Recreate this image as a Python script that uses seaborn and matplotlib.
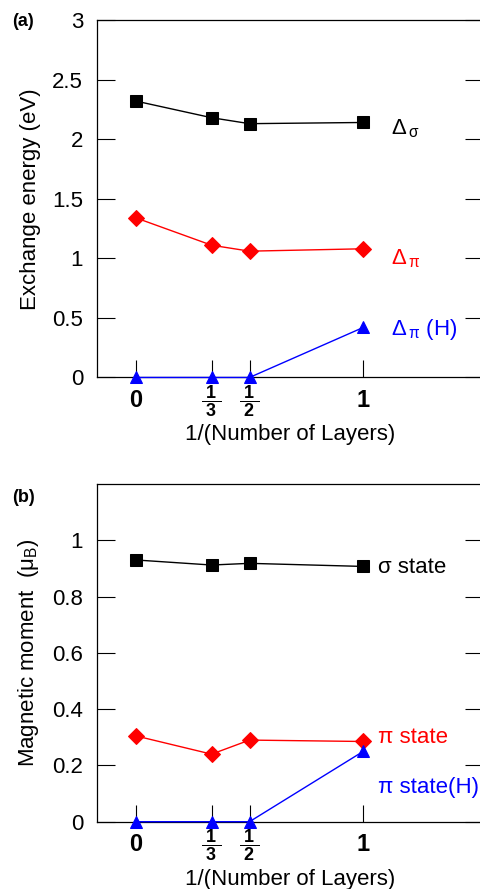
import matplotlib
matplotlib.use("Agg")
import matplotlib.pyplot as plt
import seaborn as sns

# 1/(number of layers) positions and their labels
inv_layers = [0, 1 / 3, 1 / 2, 1]
tick_labels = [r"$\mathbf{0}$", r"$\dfrac{\;\mathbf{1}\;}{\;\mathbf{3}\;}$",
               r"$\dfrac{\;\mathbf{1}\;}{\;\mathbf{2}\;}$", r"$\mathbf{1}$"]

# (a) exchange energy (eV)
exch_sigma = [2.32, 2.18, 2.13, 2.14]
exch_pi = [1.34, 1.11, 1.06, 1.08]
exch_pi_h = [0.0, 0.0, 0.0, 0.42]

# (b) magnetic moment (mu_B)
mom_sigma = [0.93, 0.912, 0.918, 0.907]
mom_pi = [0.305, 0.24, 0.29, 0.285]
mom_pi_h = [0.0, 0.0, 0.0, 0.25]

sns.set_style("ticks")
plt.rcParams["font.family"] = ["Liberation Sans", "DejaVu Sans"]
plt.rcParams["mathtext.fontset"] = "custom"
plt.rcParams["mathtext.rm"] = "Liberation Sans"
plt.rcParams["mathtext.bf"] = "Liberation Sans:bold"
plt.rcParams["mathtext.it"] = "Liberation Sans"
plt.rcParams["axes.linewidth"] = 0.9
for k in ["text.color", "axes.labelcolor", "xtick.color", "ytick.color", "axes.edgecolor"]:
    plt.rcParams[k] = "black"

fig = plt.figure(figsize=(4.81, 8.89), dpi=100)
ax_a = fig.add_axes([0.2017, 0.5754, 0.802, 0.4021])
ax_b = fig.add_axes([0.2017, 0.0757, 0.802, 0.3799])

styles = [("s", "black", 8.5), ("D", "red", 8), ("^", "blue", 9)]


def draw_panel(ax, series, ylim, yticks, ylabel):
    for vals, (mk, col, ms) in zip(series, styles):
        sns.lineplot(x=inv_layers, y=vals, ax=ax, color=col, marker=mk,
                     markersize=ms, markeredgecolor=col, linewidth=1.0,
                     clip_on=False, zorder=3)
    ax.set_xlim(-0.17, 1.525)
    ax.set_ylim(*ylim)
    ax.set_yticks(yticks)
    ax.set_xticks(inv_layers)
    ax.set_xticklabels(tick_labels)
    ax.tick_params(axis="y", direction="in", length=13, width=0.8,
                   right=True, labelsize=16, pad=10)
    ax.tick_params(axis="x", direction="in", length=12.5, width=0.8,
                   top=False, labelsize=17, pad=17)
    for i, lab in enumerate(ax.get_xticklabels()):
        lab.set_verticalalignment("center")
        if i in (1, 2):
            lab.set_fontsize(13)
    ax.set_xlabel("1/(Number of Layers)", fontsize=16, labelpad=4)
    ax.set_ylabel(ylabel, fontsize=16, labelpad=8)


draw_panel(ax_a, [exch_sigma, exch_pi, exch_pi_h], (0, 3),
           [0, 0.5, 1, 1.5, 2, 2.5, 3], "Exchange energy (eV)")
ax_a.set_yticklabels(["0", "0.5", "1", "1.5", "2", "2.5", "3"])
ax_a.text(1.123, 2.09, r"$\Delta_{\,\sigma}$", color="black", fontsize=16, va="center")
ax_a.text(1.123, 1.0, r"$\Delta_{\,\pi}$", color="red", fontsize=16, va="center")
ax_a.text(1.123, 0.40, r"$\Delta_{\,\pi}$ (H)", color="blue", fontsize=16, va="center")

draw_panel(ax_b, [mom_sigma, mom_pi, mom_pi_h], (0, 1.2),
           [0, 0.2, 0.4, 0.6, 0.8, 1], r"Magnetic moment  ($\mu_{\rm B}$)")
ax_b.set_yticklabels(["0", "0.2", "0.4", "0.6", "0.8", "1"])
ax_b.text(1.066, 0.904, "σ state", color="black", fontsize=16, va="center")
ax_b.text(1.066, 0.30, "π state", color="red", fontsize=16, va="center")
ax_b.text(1.066, 0.12, "π state(H)", color="blue", fontsize=16, va="center")

fig.text(0.025, 1 - 22 / 889, "(a)", fontsize=13, fontweight="bold", va="center")
fig.text(0.025, 1 - 498 / 889, "(b)", fontsize=13, fontweight="bold", va="center")

fig.savefig("out.png", dpi=100)
